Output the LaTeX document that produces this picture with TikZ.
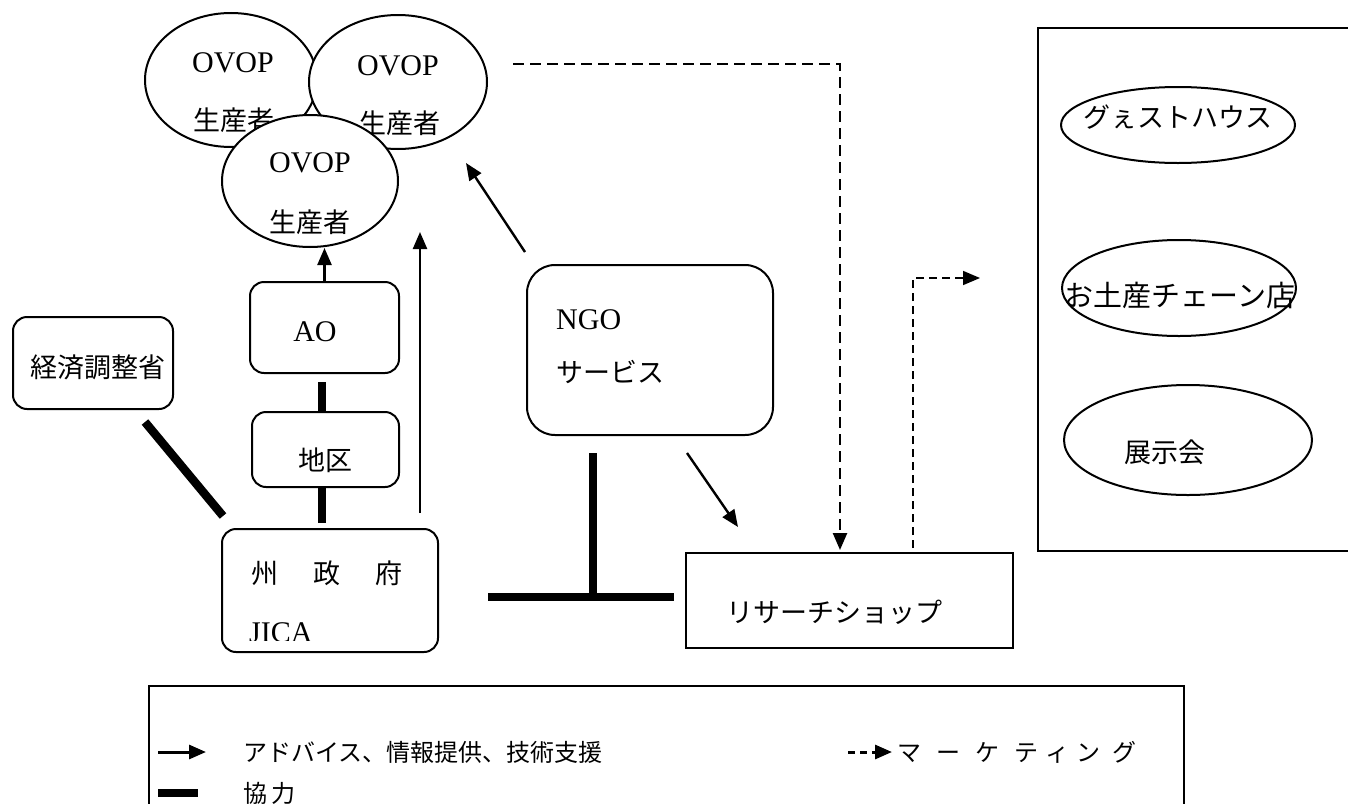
\documentclass[tikz,border=0pt]{standalone}
\usepackage{fontspec}
\setmainfont{Liberation Serif}
\newfontfamily\jp{Noto Sans CJK JP}
\usetikzlibrary{shapes.geometric,arrows.meta}
\begin{document}
\begin{tikzpicture}[x=1pt,y=-1pt,
  lat/.style={font=\fontsize{30}{34}\selectfont, inner sep=0},
  jtxt/.style={font=\jp\fontsize{27}{32}\selectfont, inner sep=0},
  ltxt/.style={font=\jp\fontsize{24}{28}\selectfont, inner sep=0, anchor=west},
  ell/.style={draw, ellipse, fill=white, line width=2pt, inner sep=0},
  rbox/.style={draw, fill=white, line width=2pt, rounded corners=14pt, inner sep=0},
  sbox/.style={draw, fill=white, line width=2pt, inner sep=0},
  arr/.style={line width=2.4pt, -{Triangle[length=17pt,width=14pt]}},
  darr/.style={line width=2.4pt, dash pattern=on 11pt off 6pt, -{Triangle[length=17pt,width=14pt]}},
  coop/.style={line width=8.5pt}]
\useasboundingbox (0,0) rectangle (1348,803);
\fill[white] (0,0) rectangle (1348,803);

% OVOP ellipses
\node[ell, minimum width=172pt, minimum height=134pt] (e1) at (231,80) {};
\node[lat] (e1a) at (233,63) {OVOP};
\node[jtxt] (e1b) at (234,120) {生産者};
\node[ell, minimum width=178pt, minimum height=134pt] (e2) at (398,82) {};
\node[lat] (e2a) at (398,66) {OVOP};
\node[jtxt] (e2b) at (400,123) {生産者};
\node[ell, minimum width=176pt, minimum height=132pt] (e3) at (310,181) {};
\node[lat] (e3a) at (310,163) {OVOP};
\node[jtxt] (e3b) at (310,222) {生産者};

% left column boxes
\node[rbox, minimum width=149pt, minimum height=91pt] (ao) at (324.5,327.5) {};
\node[lat] (aot) at (315,332) {AO};
\node[rbox, minimum width=147pt, minimum height=75pt] (chiku) at (325.5,449.5) {};
\node[jtxt] (chikut) at (325,460) {地区};
\node[rbox, minimum width=160pt, minimum height=92pt] (keizai) at (93,363) {};
\node[jtxt] (keizait) at (98,367) {経済調整省};
\node[rbox, minimum width=216pt, minimum height=123pt] (shu) at (330,590.5) {};
\node[jtxt] (shut) at (327,573) {州\hspace{35pt}政\hspace{35pt}府};
\begin{scope}
\clip (222,529) rectangle (438,640);
\node[lat, anchor=west] (jica) at (249,633) {JICA};
\end{scope}

% NGO
\node[rbox, rounded corners=28pt, minimum width=246pt, minimum height=170pt] (ngo) at (650,350) {};
\node[lat, anchor=west] (ngot) at (556,320) {NGO};
\node[jtxt, anchor=west] (ngos) at (556,372) {サービス};

% research shop
\node[sbox, minimum width=327pt, minimum height=95pt] (rs) at (849.5,600.5) {};
\node[jtxt] (rst) at (834,612) {リサーチショップ};

% marketing box
\node[sbox, anchor=north west, minimum width=320pt, minimum height=523pt] (mk) at (1037,27) {};
\node[ell, minimum width=234pt, minimum height=76pt] (gh) at (1178,125) {};
\node[jtxt] (ght) at (1178,117) {グぇストハウス};
\node[ell, minimum width=234pt, minimum height=96pt] (mi) at (1179,288) {};
\node[jtxt, font=\jp\fontsize{29}{32}\selectfont] (mit) at (1180,295) {お土産チェーン店};
\node[ell, minimum width=248pt, minimum height=110pt] (ex) at (1188,440) {};
\node[jtxt] (ext) at (1165,452) {展示会};

% connectors
\draw[arr] (ao.north) -- (ao.north |- e3.south);
\coordinate (a1s) at (420,513); \coordinate (a1e) at (420,232);
\draw[arr] (a1s) -- (a1e);
\coordinate (a2s) at (525,252); \coordinate (a2e) at (466,163);
\draw[arr] (a2s) -- (a2e);
\coordinate (a3s) at (687,453); \coordinate (a3e) at (738,527);
\draw[arr] (a3s) -- (a3e);

\coordinate (c1s) at (322,382); \coordinate (c1e) at (322,411);
\draw[coop] (c1s) -- (c1e);
\coordinate (c2s) at (322,487); \coordinate (c2e) at (322,523);
\draw[coop] (c2s) -- (c2e);
\coordinate (c3s) at (145,422); \coordinate (c3e) at (223,516);
\draw[coop] (c3s) -- (c3e);
\coordinate (t1) at (593,453); \coordinate (t2) at (593,597);
\coordinate (t3) at (488,597); \coordinate (t4) at (674,597);
\draw[coop] (t1) -- (t2);
\draw[coop] (t3) -- (t4);

\coordinate (d1s) at (513,64); \coordinate (d1e) at (840,550);
\draw[darr] (d1s) -| (d1e);
\coordinate (d2s) at (913,548); \coordinate (d2e) at (980,278);
\draw[darr, line width=1.6pt, dash pattern=on 8pt off 5pt] (d2s) |- (d2e);

% legend
\node[sbox, anchor=north west, minimum width=1035pt, minimum height=140pt] (leg) at (148,685) {};
\coordinate (l1s) at (158,752); \coordinate (l1e) at (206,752);
\draw[arr, line width=3pt] (l1s) -- (l1e);
\node[ltxt] (l1t) at (243,752) {アドバイス、情報提供、技術支援};
\coordinate (l2s) at (848,752); \coordinate (l2e) at (892,752);
\draw[darr, line width=3pt, dash pattern=on 7pt off 5pt] (l2s) -- (l2e);
\node[ltxt] (l2t) at (897,752) {マ\hspace{15pt}ー\hspace{15pt}ケ\hspace{15pt}テ\hspace{7pt}ィ\hspace{7pt}ン\hspace{12pt}グ};
\coordinate (l3s) at (158,793); \coordinate (l3e) at (198,793);
\draw[coop] (l3s) -- (l3e);
\node[ltxt] (l3t) at (243,793) {協\hspace{4pt}力};
\end{tikzpicture}
\end{document}
